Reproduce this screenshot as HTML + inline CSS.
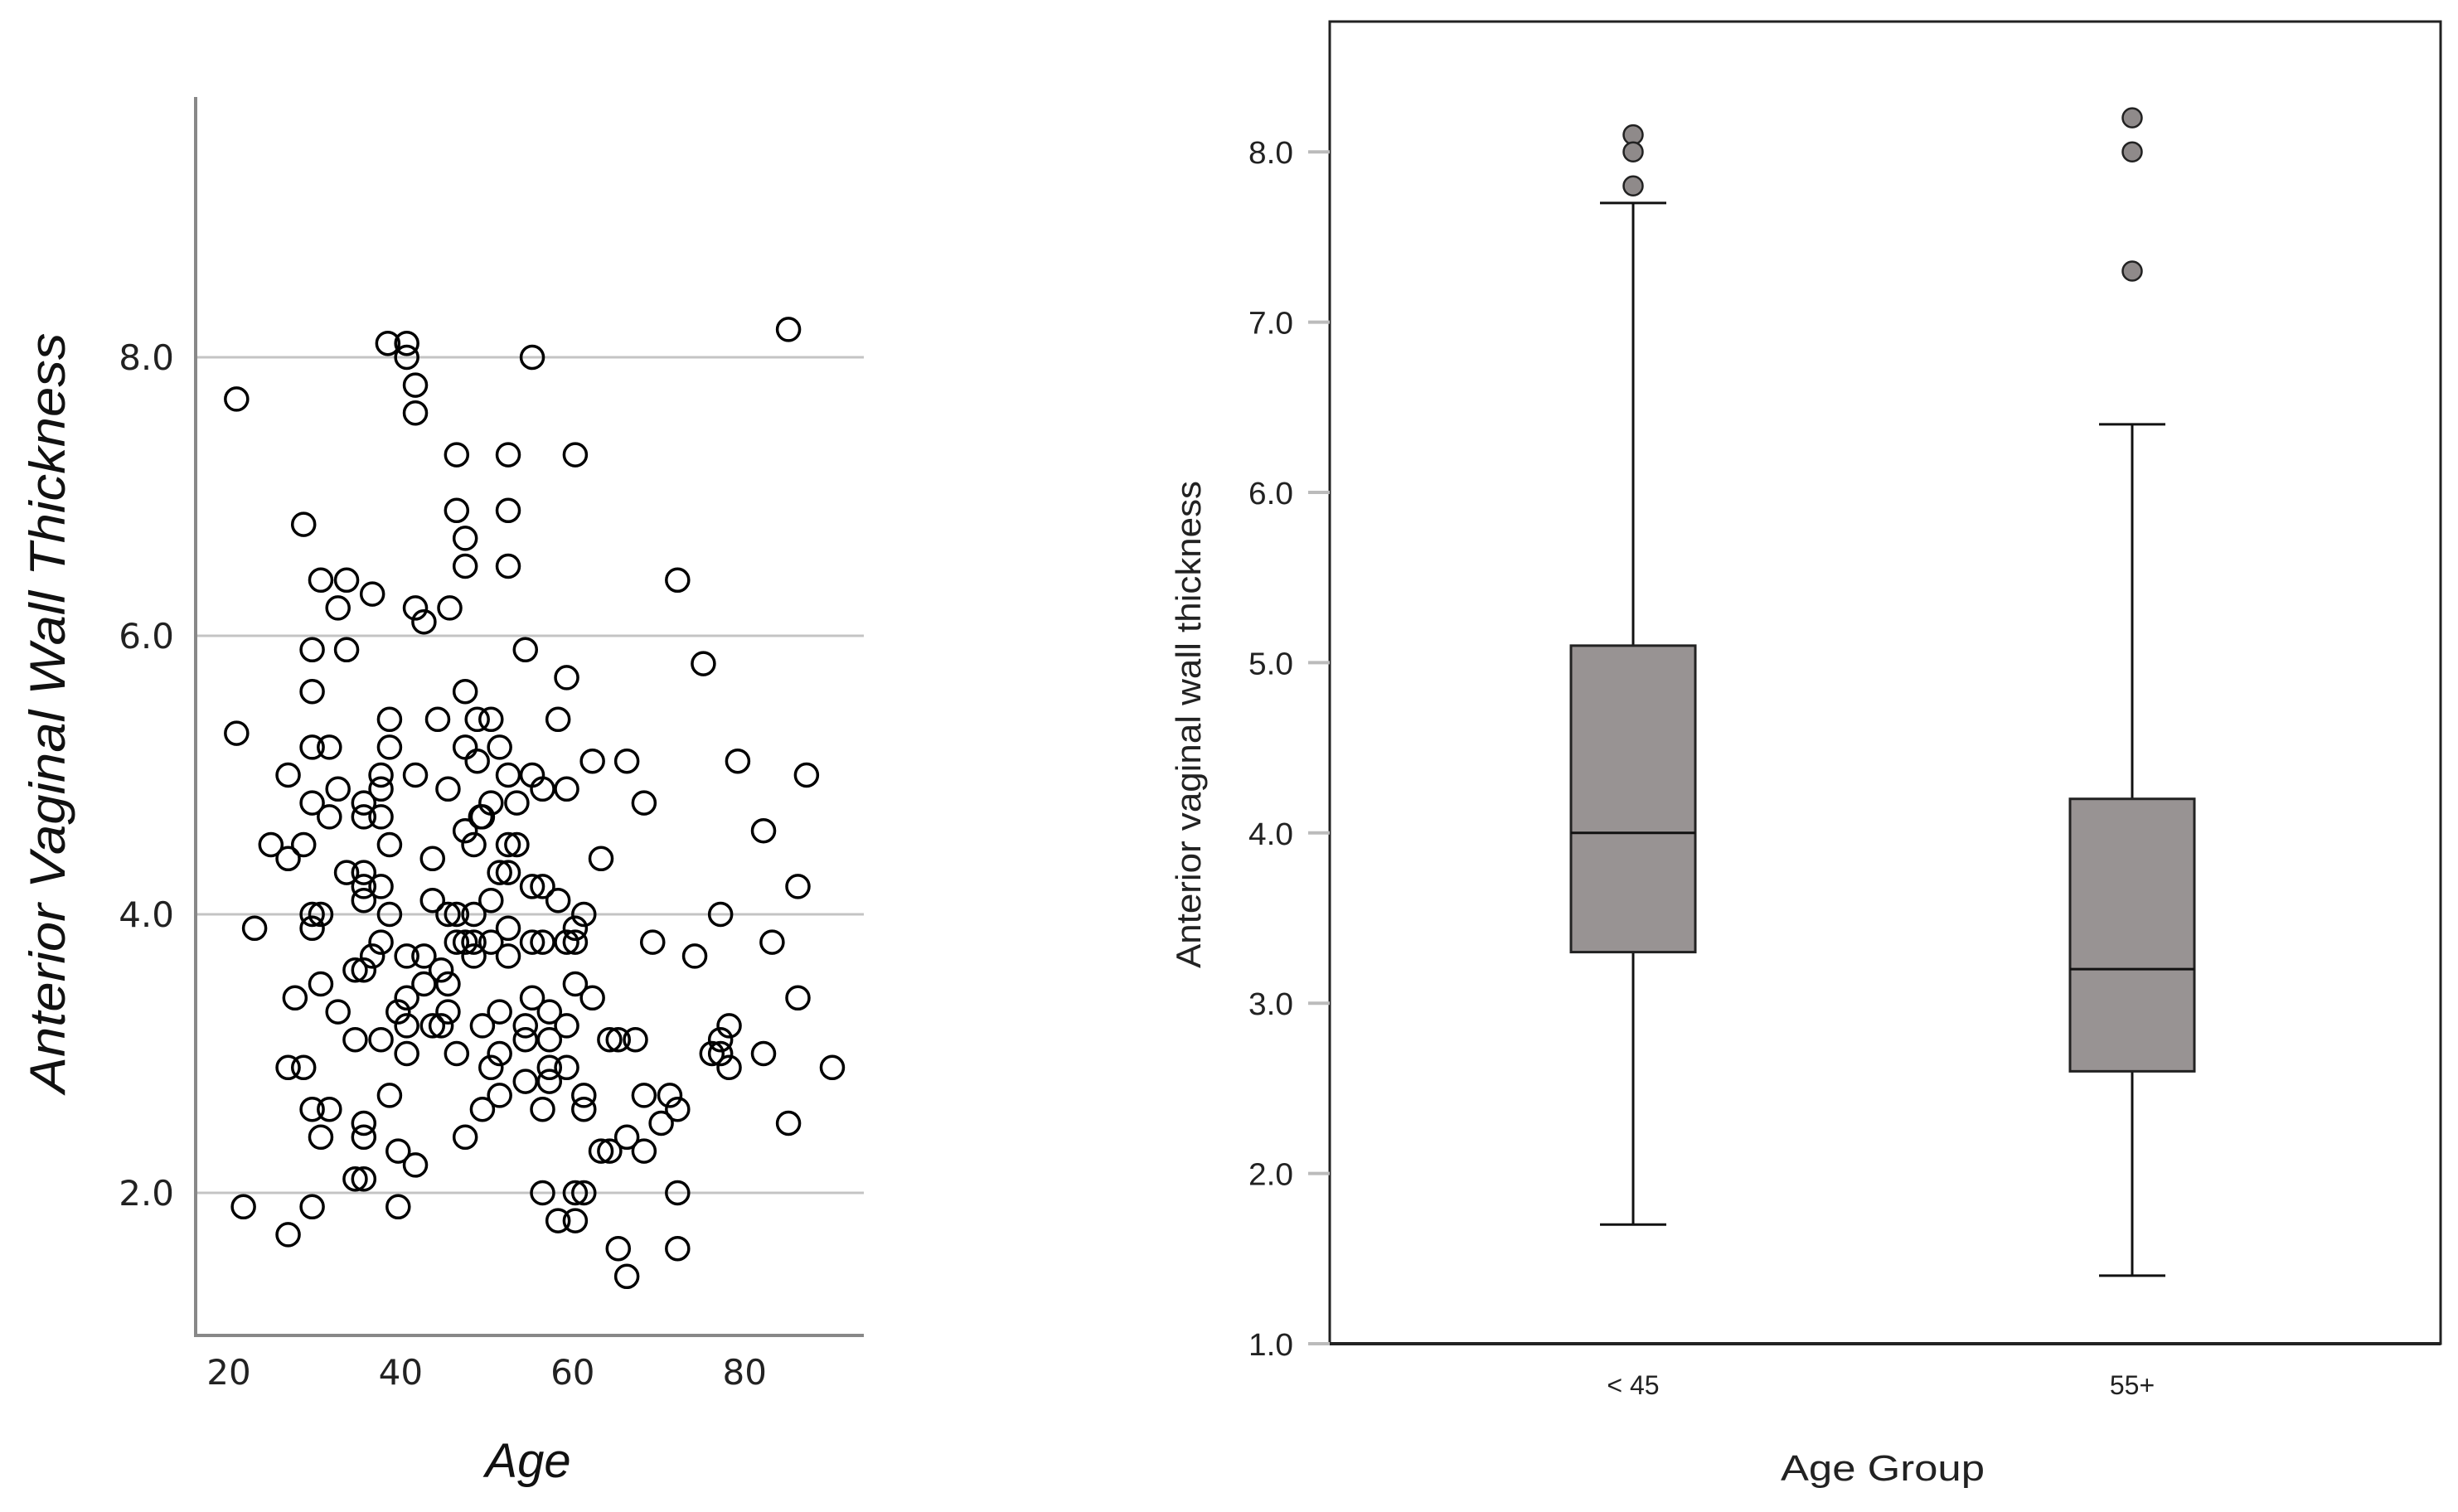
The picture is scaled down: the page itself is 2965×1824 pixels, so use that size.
<!DOCTYPE html>
<html><head><meta charset="utf-8"><style>
html,body{margin:0;padding:0;background:#fff;}
svg{display:block;}
</style></head><body>
<svg id="root" width="2965" height="1824" viewBox="0 0 2965 1824" xmlns="http://www.w3.org/2000/svg">
<rect width="2965" height="1824" fill="#fff"/>
<g id="scatter"></g>
<g id="box"></g>
</svg>
<script>
// ---- Scatter data ----
const ages = [85.1,20.9,38.5,40.7,40.7,41.7,41.7,55.3,46.5,52.5,60.3,46.5,52.5,47.5,47.5,52.5,28.7,30.7,33.7,72.2,36.7,32.7,41.7,45.7,42.7,29.7,33.7,54.5,75.2,59.3,29.7,47.5,20.9,38.7,44.3,48.9,50.5,58.3,29.7,31.7,38.7,47.5,51.5,48.9,62.3,66.3,79.2,26.9,37.7,41.7,52.5,55.3,87.2,32.7,37.7,45.5,56.5,59.3,29.7,35.7,50.5,53.5,68.3,31.7,35.7,37.7,49.5,49.3,47.5,82.2,24.9,28.7,38.7,48.5,52.5,53.5,26.9,43.7,63.3,33.7,35.7,51.5,52.5,35.7,37.7,55.3,56.5,86.2,35.7,43.7,50.5,58.3,29.7,30.7,38.7,45.5,46.5,48.5,61.3,77.2,23.0,29.7,52.5,60.3,37.7,46.5,47.5,48.5,50.5,55.3,56.5,59.3,60.3,69.3,83.2,36.7,40.7,42.7,48.5,52.5,74.2,34.7,35.7,44.7,30.7,42.7,45.5,60.3,27.7,40.7,55.3,62.3,86.2,32.7,39.7,45.5,51.5,57.3,40.7,43.7,44.7,49.5,54.5,59.3,78.2,34.7,37.7,54.5,57.3,64.3,65.3,67.3,77.2,40.7,46.5,51.5,76.2,77.2,82.2,26.9,28.7,50.5,57.3,59.3,78.2,90.2,54.5,57.3,38.7,51.5,61.3,68.3,71.3,29.7,31.7,49.5,56.5,61.3,72.2,35.7,70.3,85.1,30.7,35.7,47.5,66.3,39.7,63.3,64.3,68.3,41.7,34.7,35.7,56.5,60.3,61.3,72.2,21.7,29.7,39.7,58.3,60.3,26.9,65.3,72.2,66.3];
const thickness = [8.2,7.7,8.1,8.1,8.0,7.8,7.6,8.0,7.3,7.3,7.3,6.9,6.9,6.7,6.5,6.5,6.8,6.4,6.4,6.4,6.3,6.2,6.2,6.2,6.1,5.9,5.9,5.9,5.8,5.7,5.6,5.6,5.3,5.4,5.4,5.4,5.4,5.4,5.2,5.2,5.2,5.2,5.2,5.1,5.1,5.1,5.1,5.0,5.0,5.0,5.0,5.0,5.0,4.9,4.9,4.9,4.9,4.9,4.8,4.8,4.8,4.8,4.8,4.7,4.7,4.7,4.7,4.7,4.6,4.6,4.5,4.5,4.5,4.5,4.5,4.5,4.4,4.4,4.4,4.3,4.3,4.3,4.3,4.2,4.2,4.2,4.2,4.2,4.1,4.1,4.1,4.1,4.0,4.0,4.0,4.0,4.0,4.0,4.0,4.0,3.9,3.9,3.9,3.9,3.8,3.8,3.8,3.8,3.8,3.8,3.8,3.8,3.8,3.8,3.8,3.7,3.7,3.7,3.7,3.7,3.7,3.6,3.6,3.6,3.5,3.5,3.5,3.5,3.4,3.4,3.4,3.4,3.4,3.3,3.3,3.3,3.3,3.3,3.2,3.2,3.2,3.2,3.2,3.2,3.2,3.1,3.1,3.1,3.1,3.1,3.1,3.1,3.1,3.0,3.0,3.0,3.0,3.0,3.0,2.9,2.9,2.9,2.9,2.9,2.9,2.9,2.8,2.8,2.7,2.7,2.7,2.7,2.7,2.6,2.6,2.6,2.6,2.6,2.6,2.5,2.5,2.5,2.4,2.4,2.4,2.4,2.3,2.3,2.3,2.3,2.2,2.1,2.1,2.0,2.0,2.0,2.0,1.9,1.9,1.9,1.8,1.8,1.7,1.6,1.6,1.4];
const xTicks = [20,40,60,80];
const yTicksL = [2,4,6,8];
const yTickLabelsL = ["2.0","4.0","6.0","8.0"];

// ---- Box data ----
const groups = ["< 45","55+"];
const whiskerLow = [1.7,1.4];
const q1 = [3.3,2.6];
const median = [4.0,3.2];
const q3 = [5.1,4.2];
const whiskerHigh = [7.7,6.4];
const outliers = [[8.1,8.0,7.8],[8.2,8.0,7.3]];
const yTicksR = [1,2,3,4,5,6,7,8];
const yTickLabelsR = ["1.0","2.0","3.0","4.0","5.0","6.0","7.0","8.0"];

const NS = "http://www.w3.org/2000/svg";
function mk(parent, tag, attrs, text){
  const e = document.createElementNS(NS, tag);
  for (const k in attrs) e.setAttribute(k, attrs[k]);
  if (text !== undefined) e.textContent = text;
  parent.appendChild(e);
  return e;
}

// ---------- Scatter ----------
const sg = document.getElementById('scatter');
const sx = a => 276 + (a - 20) * 10.37;
const sy = v => 431 + (8 - v) * 168;
yTicksL.forEach((t,i)=>{
  const g = mk(sg,'line',{x1:236,x2:1042,y1:sy(t),y2:sy(t),stroke:'#c4c4c4','stroke-width':3});
  
  
  const l = mk(sg,'text',{x:210,y:sy(t)+15,'text-anchor':'end','font-family':'DejaVu Sans, sans-serif','font-size':42,fill:'#222'},yTickLabelsL[i]);
  
  
});
xTicks.forEach(t=>{
  const l = mk(sg,'text',{x:sx(t),y:1670,'text-anchor':'middle','font-family':'DejaVu Sans, sans-serif','font-size':42,fill:'#222'},String(t));
  
  
});
const ya = mk(sg,'line',{x1:236,x2:236,y1:117,y2:1613,stroke:'#888','stroke-width':4});


const xa = mk(sg,'line',{x1:234,x2:1042,y1:1611,y2:1611,stroke:'#888','stroke-width':4});


ages.forEach((a,i)=>{
  const c = mk(sg,'circle',{cx:sx(a),cy:sy(thickness[i]),r:13.5,fill:'none',stroke:'#000','stroke-width':3.5});
  
  
});
const yt = mk(sg,'text',{transform:'translate(78,860) rotate(-90)','text-anchor':'middle','font-family':'Liberation Sans, sans-serif','font-style':'italic','font-size':60,textLength:917,lengthAdjust:'spacingAndGlyphs',fill:'#111'},'Anterior Vaginal Wall Thickness');


const xt = mk(sg,'text',{x:637,y:1782,'text-anchor':'middle','font-family':'Liberation Sans, sans-serif','font-style':'italic','font-size':58,fill:'#111'},'Age');



// ---------- Box plot ----------
const bg = document.getElementById('box');
const by = v => 1621 - (v - 1) * 205.4;
const bx = i => [1970, 2572][i];
const fr = mk(bg,'rect',{x:1604,y:26,width:1340,height:1595,fill:'none',stroke:'#222','stroke-width':3});


const bax = mk(bg,'line',{x1:1604,x2:2944,y1:1621,y2:1621,stroke:'#222','stroke-width':4});


yTicksR.forEach((t,i)=>{
  const tk = mk(bg,'line',{x1:1578,x2:1604,y1:by(t),y2:by(t),stroke:'#bbb','stroke-width':4});
  
  
  const l = mk(bg,'text',{x:1560,y:by(t)+14,'text-anchor':'end','font-family':'Liberation Sans, sans-serif','font-size':38,textLength:54,lengthAdjust:'spacingAndGlyphs',fill:'#222'},yTickLabelsR[i]);
  
  
});
groups.forEach((gname,i)=>{
  const cx = bx(i);
  const w1 = mk(bg,'line',{x1:cx,x2:cx,y1:by(whiskerHigh[i]),y2:by(q3[i]),stroke:'#111','stroke-width':3});
  
  
  const w2 = mk(bg,'line',{x1:cx,x2:cx,y1:by(q1[i]),y2:by(whiskerLow[i]),stroke:'#111','stroke-width':3});
  
  
  const c1 = mk(bg,'line',{x1:cx-40,x2:cx+40,y1:by(whiskerHigh[i]),y2:by(whiskerHigh[i]),stroke:'#111','stroke-width':3});
  
  
  const c2 = mk(bg,'line',{x1:cx-40,x2:cx+40,y1:by(whiskerLow[i]),y2:by(whiskerLow[i]),stroke:'#111','stroke-width':3});
  
  
  const b = mk(bg,'rect',{x:cx-75,y:by(q3[i]),width:150,height:by(q1[i])-by(q3[i]),fill:'#989393',stroke:'#222','stroke-width':3});
  
  
  const m = mk(bg,'line',{x1:cx-75,x2:cx+75,y1:by(median[i]),y2:by(median[i]),stroke:'#111','stroke-width':3});
  
  
  outliers[i].forEach(o=>{
    const oc = mk(bg,'circle',{cx:cx,cy:by(o),r:11.5,fill:'#8f8a8a',stroke:'#222','stroke-width':2.5});
    
    
  });
  const l = mk(bg,'text',{x:cx,y:1682,'text-anchor':'middle','font-family':'Liberation Sans, sans-serif','font-size':32,fill:'#222'},gname);
  
  
});
const byt = mk(bg,'text',{transform:'translate(1448,874) rotate(-90)','text-anchor':'middle','font-family':'Liberation Sans, sans-serif','font-size':42,textLength:588,lengthAdjust:'spacingAndGlyphs',fill:'#222'},'Anterior vaginal wall thickness');


const bxt = mk(bg,'text',{x:2271,y:1786,'text-anchor':'middle','font-family':'Liberation Sans, sans-serif','font-size':44,textLength:246,lengthAdjust:'spacingAndGlyphs',fill:'#222'},'Age Group');


</script>
</body></html>
